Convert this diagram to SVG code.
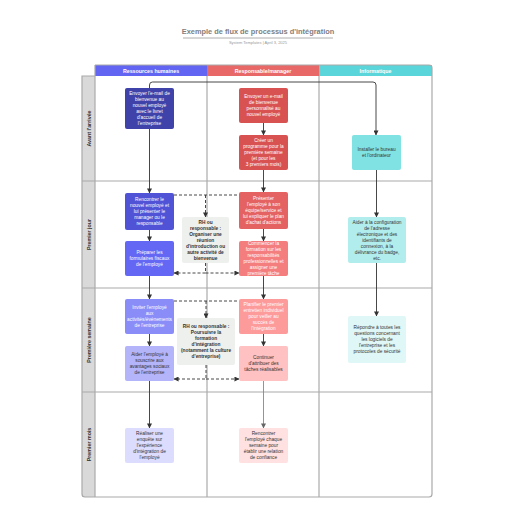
<svg xmlns="http://www.w3.org/2000/svg" width="516" height="516" viewBox="0 0 516 516">
<defs>
<style>
.t{font-family:"Liberation Sans",Arial,sans-serif;font-size:4.8px;text-anchor:middle}
.w{fill:#ffffff}
.d{fill:#333333}
.b{font-weight:bold}
.hd{font-family:"Liberation Sans",Arial,sans-serif;font-size:5.3px;font-weight:bold;fill:#ffffff;text-anchor:middle}
.ln{font-family:"Liberation Sans",Arial,sans-serif;font-size:5.3px;font-weight:bold;fill:#333333;text-anchor:middle}
.grid{stroke:#aaaaaa;stroke-width:1.2;fill:none}
.c{stroke:#333333;stroke-width:0.9;fill:none}
.cg{stroke:#888888;stroke-width:0.9;fill:none}
.dash{stroke:#333333;stroke-width:0.9;fill:none;stroke-dasharray:3,2}
</style>
<marker id="a" viewBox="0 0 6 6" refX="5.5" refY="3" markerWidth="5" markerHeight="5" orient="auto" markerUnits="userSpaceOnUse"><path d="M0,0 L6,3 L0,6 z" fill="#333333"/></marker>
<marker id="ag" viewBox="0 0 6 6" refX="5.5" refY="3" markerWidth="5" markerHeight="5" orient="auto" markerUnits="userSpaceOnUse"><path d="M0,0 L6,3 L0,6 z" fill="#666666"/></marker>
<clipPath id="cr4"><rect x="239" y="241" width="49" height="35" rx="2"/></clipPath>
</defs>
<rect width="516" height="516" fill="#ffffff"/>
<g id="title">
<text x="258" y="34" style="font-family:'Liberation Sans',Arial,sans-serif;font-size:7.4px;font-weight:bold;fill:#808080;text-anchor:middle">Exemple de flux de processus d'intégration</text>
<line x1="183" y1="38" x2="333" y2="38" stroke="#999999" stroke-width="0.8"/>
<text x="258" y="44" style="font-family:'Liberation Sans',Arial,sans-serif;font-size:4px;fill:#999999;text-anchor:middle">System Templates  |  April 3, 2025</text>
</g>
<g id="lanes">
<rect x="82" y="76" width="13" height="421" fill="#d9d9d9"/>
<rect x="95" y="65" width="112" height="11" fill="#6165f2"/>
<rect x="207" y="65" width="112" height="11" fill="#e86868"/>
<rect x="319" y="65" width="113" height="11" fill="#5ad5d9"/>
<text class="hd" x="151" y="72.7">Ressources humaines</text>
<text class="hd" x="263" y="72.7">Responsable/manager</text>
<text class="hd" x="375.5" y="72.7">Informatique</text>
<path class="grid" d="M95,65 H429 Q432,65 432,68 V494 Q432,497 429,497 H85 Q82,497 82,494 V76 H95"/>
<line class="grid" x1="95" y1="65" x2="95" y2="497"/>
<line class="grid" x1="207" y1="76" x2="207" y2="497"/>
<line class="grid" x1="319" y1="76" x2="319" y2="497"/>
<line class="grid" x1="82" y1="181" x2="432" y2="181"/>
<line class="grid" x1="82" y1="288" x2="432" y2="288"/>
<line class="grid" x1="82" y1="392" x2="432" y2="392"/>
<text class="ln" transform="translate(90.5,128.5) rotate(-90)">Avant l'arrivée</text>
<text class="ln" transform="translate(90.5,234.5) rotate(-90)">Premier jour</text>
<text class="ln" transform="translate(90.5,340) rotate(-90)">Première semaine</text>
<text class="ln" transform="translate(90.5,444.5) rotate(-90)">Premier mois</text>
</g>
<g id="connectors">
<path class="c" d="M149.5,88 V85 Q149.5,82 152.5,82 H373 Q376,82 376,85 V135" marker-end="url(#a)"/>
<path class="c" d="M149.5,129 V193" marker-end="url(#a)"/>
<path class="c" d="M149.5,230 V241" marker-end="url(#a)"/>
<path class="c" d="M149.5,276 V299" marker-end="url(#a)"/>
<path class="c" d="M149.5,334 V346" marker-end="url(#a)"/>
<path class="c" d="M149.5,381 V428" marker-end="url(#a)"/>
<path class="c" d="M263.5,123 V135" marker-end="url(#a)"/>
<path class="c" d="M263.5,170 V192" marker-end="url(#a)"/>
<path class="c" d="M263.5,229 V241" marker-end="url(#a)"/>
<path class="c" d="M263.5,276 V299" marker-end="url(#a)"/>
<path class="c" d="M263.5,334 V346" marker-end="url(#a)"/>
<path class="cg" d="M263.5,381 V428" marker-end="url(#ag)"/>
<path class="c" d="M376.5,170 V217" marker-end="url(#a)"/>
<path class="c" d="M376.5,263 V316" marker-end="url(#a)"/>
<path class="dash" d="M174,195 H239"/>
<path class="dash" d="M205.5,195 V217" marker-end="url(#a)"/>
<path class="dash" d="M205.5,263 V273 H174" marker-end="url(#a)"/>
<path class="dash" d="M205.5,273 H239" marker-end="url(#a)"/>
<path class="dash" d="M174,301 H239"/>
<path class="dash" d="M206,301 V318" marker-end="url(#a)"/>
<path class="dash" d="M206,365 V379 H174" marker-end="url(#a)"/>
<path class="dash" d="M206,379 H239" marker-end="url(#a)"/>
</g>
<g id="n1"><rect x="125" y="88" width="49" height="41" rx="2" fill="#3f42a8"/>
<text class="t w" x="149.5" y="95.3"><tspan x="149.5">Envoyer l'e-mail de</tspan><tspan x="149.5" dy="6">bienvenue au</tspan><tspan x="149.5" dy="6">nouvel employé</tspan><tspan x="149.5" dy="6">avec le livret</tspan><tspan x="149.5" dy="6">d'accueil de</tspan><tspan x="149.5" dy="6">l'entreprise</tspan></text></g>
<g id="n2"><rect x="125" y="193" width="49" height="37" rx="2" fill="#5053d6"/>
<text class="t w" x="149.5" y="201.3"><tspan x="149.5">Rencontrer le</tspan><tspan x="149.5" dy="6">nouvel employé et</tspan><tspan x="149.5" dy="6">lui présenter le</tspan><tspan x="149.5" dy="6">manager ou le</tspan><tspan x="149.5" dy="6">responsable</tspan></text></g>
<g id="n3"><rect x="125" y="241" width="49" height="35" rx="2" fill="#6367f3"/>
<text class="t w" x="149.5" y="254.3"><tspan x="149.5">Préparer les</tspan><tspan x="149.5" dy="6">formulaires fiscaux</tspan><tspan x="149.5" dy="6">de l'employé</tspan></text></g>
<g id="n4"><rect x="125" y="299" width="49" height="35" rx="2" fill="#8a8cf7"/>
<text class="t w" x="149.5" y="309.3"><tspan x="149.5">Inviter l'employé</tspan><tspan x="149.5" dy="6">aux</tspan><tspan x="149.5" dy="6">activités/événements</tspan><tspan x="149.5" dy="6">de l'entreprise</tspan></text></g>
<g id="n5"><rect x="125" y="346" width="49" height="35" rx="2" fill="#b3b4fa"/>
<text class="t d" x="149.5" y="356.3"><tspan x="149.5">Aider l'employé à</tspan><tspan x="149.5" dy="6">souscrire aux</tspan><tspan x="149.5" dy="6">avantages sociaux</tspan><tspan x="149.5" dy="6">de l'entreprise</tspan></text></g>
<g id="n6"><rect x="125" y="428" width="49" height="35" rx="2" fill="#dcdcfe"/>
<text class="t d" x="149.5" y="435.3"><tspan x="149.5">Réaliser une</tspan><tspan x="149.5" dy="6">enquête sur</tspan><tspan x="149.5" dy="6">l'expérience</tspan><tspan x="149.5" dy="6">d'intégration de</tspan><tspan x="149.5" dy="6">l'employé</tspan></text></g>
<g id="r1"><rect x="239" y="88" width="49" height="35" rx="2" fill="#d95252"/>
<text class="t w" x="263.5" y="98.3"><tspan x="263.5">Envoyer un e-mail</tspan><tspan x="263.5" dy="6">de bienvenue</tspan><tspan x="263.5" dy="6">personnalisé au</tspan><tspan x="263.5" dy="6">nouvel employé</tspan></text></g>
<g id="r2"><rect x="239" y="135" width="49" height="35" rx="2" fill="#d95252"/>
<text class="t w" x="263.5" y="142.3"><tspan x="263.5">Créer un</tspan><tspan x="263.5" dy="6">programme pour la</tspan><tspan x="263.5" dy="6">première semaine</tspan><tspan x="263.5" dy="6">(et pour les</tspan><tspan x="263.5" dy="6">3 premiers mois)</tspan></text></g>
<g id="r3"><rect x="239" y="192" width="49" height="37" rx="2" fill="#e46262"/>
<text class="t w" x="263.5" y="200.3"><tspan x="263.5">Présenter</tspan><tspan x="263.5" dy="6">l'employé à son</tspan><tspan x="263.5" dy="6">équipe/service et</tspan><tspan x="263.5" dy="6">lui expliquer le plan</tspan><tspan x="263.5" dy="6">d'achat d'actions</tspan></text></g>
<g id="r4"><rect x="239" y="241" width="49" height="35" rx="2" fill="#f47d7d"/>
<text class="t w" x="263.5" y="245.3" clip-path="url(#cr4)"><tspan x="263.5">Commencer la</tspan><tspan x="263.5" dy="6">formation sur les</tspan><tspan x="263.5" dy="6">responsabilités</tspan><tspan x="263.5" dy="6">professionnelles et</tspan><tspan x="263.5" dy="6">assigner une</tspan><tspan x="263.5" dy="6">première tâche</tspan></text></g>
<g id="r5"><rect x="239" y="299" width="49" height="35" rx="2" fill="#fd9a9a"/>
<text class="t w" x="263.5" y="306.3"><tspan x="263.5">Planifier le premier</tspan><tspan x="263.5" dy="6">entretien individuel</tspan><tspan x="263.5" dy="6">pour veiller au</tspan><tspan x="263.5" dy="6">succès de</tspan><tspan x="263.5" dy="6">l'intégration</tspan></text></g>
<g id="r6"><rect x="239" y="346" width="49" height="35" rx="2" fill="#ffc1c1"/>
<text class="t d" x="263.5" y="359.3"><tspan x="263.5">Continuer</tspan><tspan x="263.5" dy="6">d'attribuer des</tspan><tspan x="263.5" dy="6">tâches réalisables</tspan></text></g>
<g id="r7"><rect x="239" y="428" width="49" height="35" rx="2" fill="#ffe1e1"/>
<text class="t d" x="263.5" y="435.3"><tspan x="263.5">Rencontrer</tspan><tspan x="263.5" dy="6">l'employé chaque</tspan><tspan x="263.5" dy="6">semaine pour</tspan><tspan x="263.5" dy="6">établir une relation</tspan><tspan x="263.5" dy="6">de confiance</tspan></text></g>
<g id="i1"><rect x="352" y="135" width="49" height="35" rx="2" fill="#80e2e2"/>
<text class="t d" x="376.5" y="151.3"><tspan x="376.5">Installer le bureau</tspan><tspan x="376.5" dy="6">et l'ordinateur</tspan></text></g>
<g id="i2"><rect x="348" y="217" width="58" height="46" rx="2" fill="#b2eded"/>
<text class="t d" x="377" y="223.7"><tspan x="377">Aider à la configuration</tspan><tspan x="377" dy="6">de l'adresse</tspan><tspan x="377" dy="6">électronique et des</tspan><tspan x="377" dy="6">identifiants de</tspan><tspan x="377" dy="6">connexion, à la</tspan><tspan x="377" dy="6">délivrance du badge,</tspan><tspan x="377" dy="6">etc.</tspan></text></g>
<g id="i3"><rect x="348" y="316" width="58" height="47" rx="2" fill="#e0f7f7"/>
<text class="t d" x="377" y="329.3"><tspan x="377">Répondre à toutes les</tspan><tspan x="377" dy="6">questions concernant</tspan><tspan x="377" dy="6">les logiciels de</tspan><tspan x="377" dy="6">l'entreprise et les</tspan><tspan x="377" dy="6">protocoles de sécurité</tspan></text></g>
<g id="g1"><rect x="182" y="217" width="47" height="46" rx="2" fill="#eef0ee"/>
<text class="t d b" x="205.5" y="223.7"><tspan x="205.5">RH ou</tspan><tspan x="205.5" dy="6">responsable :</tspan><tspan x="205.5" dy="6">Organiser une</tspan><tspan x="205.5" dy="6">réunion</tspan><tspan x="205.5" dy="6">d'introduction ou</tspan><tspan x="205.5" dy="6">autre activité de</tspan><tspan x="205.5" dy="6">bienvenue</tspan></text></g>
<g id="g2"><rect x="177" y="318" width="58" height="47" rx="2" fill="#eef0ee"/>
<text class="t d b" x="206" y="328.3"><tspan x="206">RH ou responsable :</tspan><tspan x="206" dy="6">Poursuivre la</tspan><tspan x="206" dy="6">formation</tspan><tspan x="206" dy="6">d'intégration</tspan><tspan x="206" dy="6">(notamment la culture</tspan><tspan x="206" dy="6">d'entreprise)</tspan></text></g>
</svg>
